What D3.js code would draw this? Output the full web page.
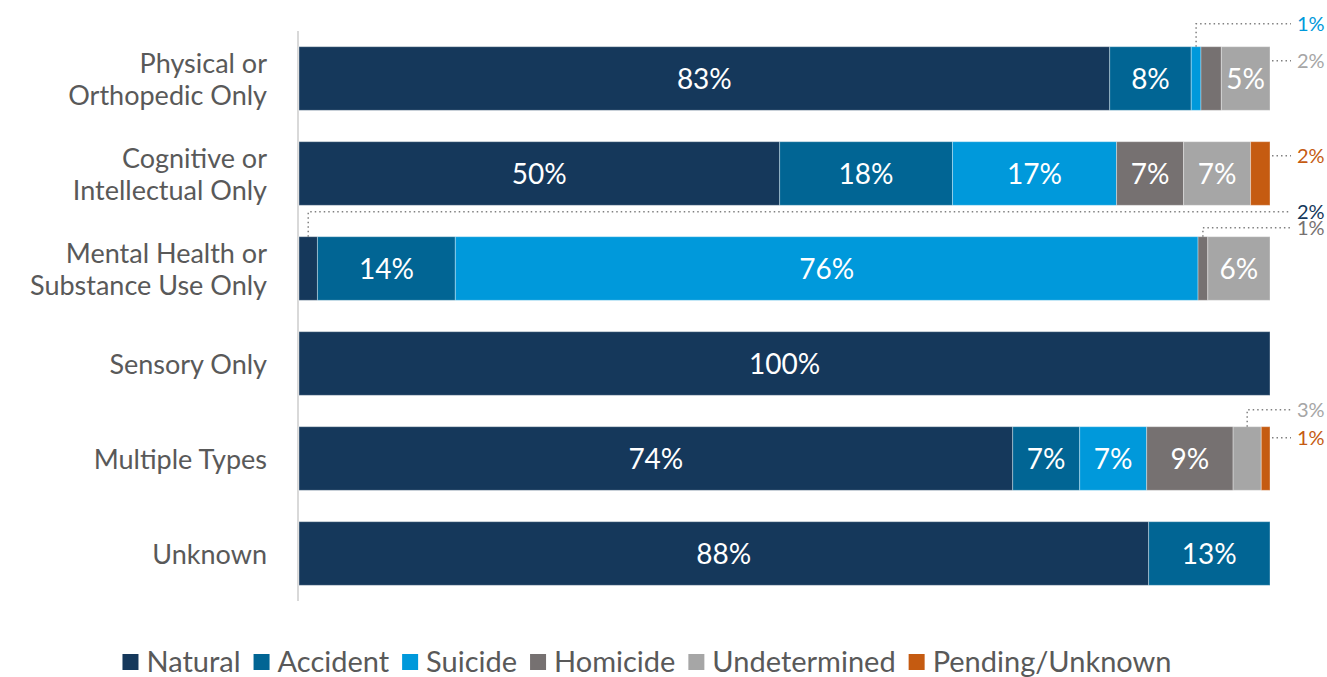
<!DOCTYPE html>
<html>
<head>
<meta charset="utf-8">
<script src="https://cdn.jsdelivr.net/npm/d3@7"></script>
<style>
  html, body { margin: 0; padding: 0; background: #fff; }
  svg { display: block; }
  text { font-family: Lato, "Open Sans", sans-serif; }
</style>
</head>
<body>
<svg id="chart" width="1327" height="677"></svg>
<script>
// Manner of death by disability type (percent of deaths in each group)
const categories = [
  "Physical or\nOrthopedic Only",
  "Cognitive or\nIntellectual Only",
  "Mental Health or\nSubstance Use Only",
  "Sensory Only",
  "Multiple Types",
  "Unknown"
];
const seriesNames  = ["Natural", "Accident", "Suicide", "Homicide", "Undetermined", "Pending/Unknown"];
const natural      = [83.49, 49.5, 1.9, 100, 73.5, 87.5];
const accident     = [8.4, 17.8, 14.2, 0, 6.9, 12.5];
const suicide      = [1.0, 16.9, 76.49, 0, 6.9, 0];
const homicide     = [2.1, 6.9, 1.0, 0, 8.9, 0];
const undetermined = [5.01, 6.9, 6.41, 0, 2.9, 0];
const pending      = [0, 2.0, 0, 0, 0.9, 0];
const seriesColors = ["#15385B", "#016594", "#0099DB", "#767171", "#A6A6A6", "#C55B11"];

// Small segments labelled outside the bar with dotted leader lines.
// kind "above": leader rises from the segment centre; kind "side": leader leaves the bar end.
const callouts = [
  { row: 0, series: 2, kind: "above", dy: 23, tone: 2 },
  { row: 0, series: 3, kind: "side",  dy: 14, tone: 4 },
  { row: 1, series: 5, kind: "side",  dy: 14, tone: 5 },
  { row: 2, series: 0, kind: "above", dy: 25, tone: 0 },
  { row: 2, series: 3, kind: "above", dy: 9,  tone: 3 },
  { row: 4, series: 4, kind: "above", dy: 17, tone: 4 },
  { row: 4, series: 5, kind: "side",  dy: 11, tone: 5 }
];

const seriesValues = [natural, accident, suicide, homicide, undetermined, pending];
const rows = categories.map((c, i) => {
  const r = { category: c };
  seriesNames.forEach((s, k) => { r[s] = seriesValues[k][i]; });
  return r;
});

const svg = d3.select("#chart");
const plot = { left: 299, right: 1270, top: 31, bottom: 601 };

const x = d3.scaleLinear().domain([0, 100]).range([plot.left, plot.right]);
const y = d3.scaleBand().domain(d3.range(categories.length))
  .range([plot.top, plot.bottom]).paddingInner(0.33).paddingOuter(0.165);
const color = d3.scaleOrdinal().domain(seriesNames).range(seriesColors);
const fmt = v => d3.format(".0f")(v) + "%";

const stacked = d3.stack().keys(seriesNames)(rows);

// Category axis line
svg.append("line")
  .attr("x1", plot.left - 1).attr("x2", plot.left - 1)
  .attr("y1", plot.top).attr("y2", plot.bottom)
  .attr("stroke", "#D9D9D9").attr("stroke-width", 2);

// Category labels
const catG = svg.append("g");
categories.forEach((c, i) => {
  const lines = c.split("\n");
  const cy = y(i) + y.bandwidth() / 2;
  const lh = 32;
  const t = catG.append("text")
    .attr("text-anchor", "end")
    .attr("fill", "#595959")
    .attr("font-size", 27);
  lines.forEach((ln, j) => {
    t.append("tspan")
      .attr("x", 267)
      .attr("y", cy + (j - (lines.length - 1) / 2) * lh + 10)
      .text(ln);
  });
});

// Bar segments
const layer = svg.append("g").selectAll("g").data(stacked).join("g")
  .attr("fill", d => color(d.key));
layer.selectAll("rect").data(d => d.map((p, i) => ({ p, i, key: d.key })))
  .join("rect")
  .filter(d => d.p[1] - d.p[0] > 0)
  .attr("x", d => x(d.p[0]))
  .attr("y", d => y(d.i))
  .attr("width", d => x(d.p[1]) - x(d.p[0]))
  .attr("height", y.bandwidth())
  .attr("stroke", "#ffffff").attr("stroke-opacity", 0.35).attr("stroke-width", 1);

// Value labels inside wide segments
const labG = svg.append("g");
stacked.forEach(s => {
  s.forEach((p, i) => {
    const v = p[1] - p[0];
    if (v < 4) return;
    labG.append("text")
      .attr("x", x((p[0] + p[1]) / 2))
      .attr("y", y(i) + y.bandwidth() / 2 + 10)
      .attr("text-anchor", "middle")
      .attr("fill", "#ffffff")
      .attr("font-size", 28)
      .text(fmt(v));
  });
});

// Leader-line labels for small segments
const callG = svg.append("g");
const lineEnd = 1291, textX = 1297;
callouts.forEach(c => {
  const p = stacked[c.series][c.row];
  const v = p[1] - p[0];
  const top = y(c.row);
  let ly;
  const path = d3.path();
  if (c.kind === "above") {
    const cx = x((p[0] + p[1]) / 2);
    ly = top - c.dy;
    path.moveTo(cx, top);
    path.lineTo(cx, ly);
    path.lineTo(lineEnd, ly);
  } else {
    ly = top + c.dy;
    path.moveTo(x(100) + 2, ly);
    path.lineTo(lineEnd, ly);
  }
  callG.append("path")
    .attr("d", path.toString())
    .attr("fill", "none")
    .attr("stroke", "#808080")
    .attr("stroke-width", 1.5)
    .attr("stroke-dasharray", "1.5 3");
  callG.append("text")
    .attr("x", textX)
    .attr("y", ly + 7)
    .attr("fill", seriesColors[c.tone])
    .attr("font-size", 20)
    .text(fmt(v));
});

// Legend
const legG = svg.append("g");
let lx = 0;
seriesNames.forEach((s, k) => {
  const g = legG.append("g").attr("transform", `translate(${lx},0)`);
  g.append("rect").attr("x", 0).attr("y", -8).attr("width", 16).attr("height", 16)
    .attr("fill", seriesColors[k]);
  const t = g.append("text").attr("x", 24).attr("y", 10)
    .attr("fill", "#595959").attr("font-size", 29).text(s);
  lx += 24 + t.node().getComputedTextLength() + 13;
});
const legW = lx - 13;
legG.attr("transform", `translate(${647 - legW / 2},662)`);
</script>
</body>
</html>
